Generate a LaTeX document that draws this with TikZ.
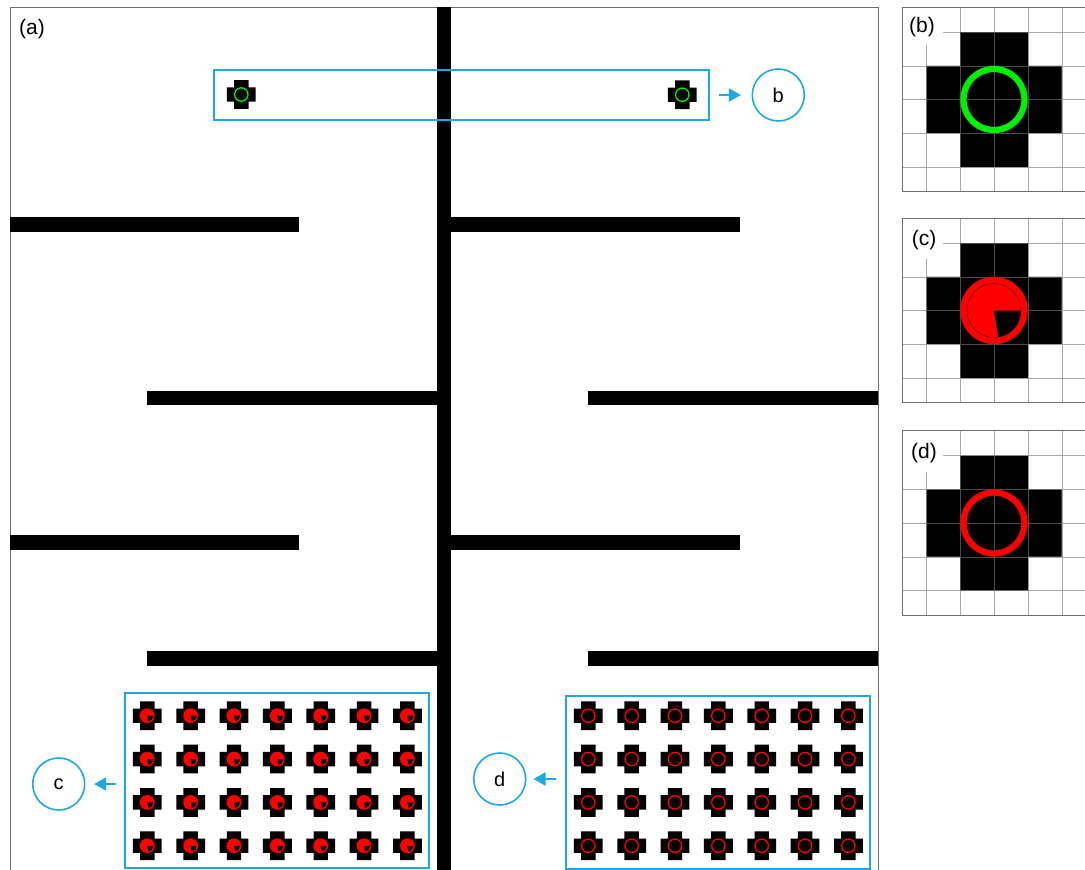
\documentclass[tikz,border=0pt]{standalone}
\usepackage{fontspec}
\setmainfont{Liberation Sans}
\usetikzlibrary{arrows.meta}
\definecolor{cyanb}{HTML}{1FA9E4}
\definecolor{gridg}{HTML}{A8A8A8}
\definecolor{frameg}{HTML}{6E6E6E}
\definecolor{ringg}{HTML}{00F000}
\definecolor{ringr}{HTML}{FF0000}
\tikzset{
  bar/.style={fill=black,draw=none},
  selbox/.style={draw=cyanb,line width=2pt,fill=none,rectangle,inner sep=0pt,outer sep=0pt,anchor=north west},
  callout/.style={draw=cyanb,line width=1.6pt,circle,minimum size=52pt,inner sep=0pt,font=\fontsize{20}{24}\selectfont},
  tag/.style={inner sep=0pt,font=\fontsize{21}{24}\selectfont},
  pointer/.style={draw=cyanb,line width=2pt,-{Triangle[length=12pt,width=13pt]}},
  gridline/.style={draw=gridg,line width=1pt},
  frameline/.style={draw=frameg,line width=1pt},
  crossbody/.style={fill=black,draw=none},
  pics/crossgreen/.style={code={
    \path[crossbody] (-7.2,-14.4)--(7.2,-14.4)--(7.2,-7.2)--(14.4,-7.2)--(14.4,7.2)--(7.2,7.2)--(7.2,14.4)--(-7.2,14.4)--(-7.2,7.2)--(-14.4,7.2)--(-14.4,-7.2)--(-7.2,-7.2)--cycle;
    \draw[ringg,line width=1.3pt] (0,0) circle[radius=6.7pt];}},
  pics/crossred/.style={code={
    \path[crossbody] (-7.2,-14.4)--(7.2,-14.4)--(7.2,-7.2)--(14.4,-7.2)--(14.4,7.2)--(7.2,7.2)--(7.2,14.4)--(-7.2,14.4)--(-7.2,7.2)--(-14.4,7.2)--(-14.4,-7.2)--(-7.2,-7.2)--cycle;
    \draw[ringr,line width=1.3pt] (0,0) circle[radius=6.7pt];}},
  pics/crossfull/.style={code={
    \path[crossbody] (-7.2,-14.4)--(7.2,-14.4)--(7.2,-7.2)--(14.4,-7.2)--(14.4,7.2)--(7.2,7.2)--(7.2,14.4)--(-7.2,14.4)--(-7.2,7.2)--(-14.4,7.2)--(-14.4,-7.2)--(-7.2,-7.2)--cycle;
    \fill[ringr] (0,0) circle[radius=7.4pt];
    \fill[black] (0,0)--(6,0) arc[start angle=0,end angle=-80,radius=6pt]--cycle;}},
}
\newcommand{\bigcross}[2]{%
  \fill[black,fill opacity=.55] (#1-34,#2-67.5)--(#1+34,#2-67.5)--(#1+34,#2-33.7)--(#1+67.7,#2-33.7)--(#1+67.7,#2+33.7)--(#1+34,#2+33.7)--(#1+34,#2+67.7)--(#1-34,#2+67.7)--(#1-34,#2+33.7)--(#1-67.7,#2+33.7)--(#1-67.7,#2-33.7)--(#1-34,#2-33.7)--cycle;}
\newcommand{\blackcross}[2]{%
  \fill[black] (#1-34,#2-67.5)--(#1+34,#2-67.5)--(#1+34,#2-33.7)--(#1+67.7,#2-33.7)--(#1+67.7,#2+33.7)--(#1+34,#2+33.7)--(#1+34,#2+67.7)--(#1-34,#2+67.7)--(#1-34,#2+33.7)--(#1-67.7,#2+33.7)--(#1-67.7,#2-33.7)--(#1-34,#2-33.7)--cycle;}
\newcommand{\gridset}[7]{%
  \draw[gridline] (926,#7) -- (926,#2);
  \foreach \gx in {960,994,1028,1062} {\draw[gridline] (\gx,#1) -- (\gx,#2);}
  \draw[gridline] (943,#3) -- (1085,#3);
  \foreach \gy in {#4,#5,#6} {\draw[gridline] (902,\gy) -- (1085,\gy);}
}
\begin{document}
\begin{tikzpicture}[x=1pt,y=-1pt]
\useasboundingbox (0,0) rectangle (1085,870);
\fill[white] (0,0) rectangle (1085,870);
\draw[frameline] (10,870) -- (10,7.5) -- (878,7.5) -- (878,870);
\fill[bar] (437,7) rectangle (451,870);
\fill[bar] (10,217) rectangle (299,231.5);
\fill[bar] (451,217) rectangle (740,231.5);
\fill[bar] (147,390.5) rectangle (437,405);
\fill[bar] (588,390.5) rectangle (878,405);
\fill[bar] (10,535) rectangle (299,549.5);
\fill[bar] (451,535) rectangle (740,549.5);
\fill[bar] (147,651) rectangle (437,665.5);
\fill[bar] (588,651) rectangle (878,665.5);
\node[tag] (la) at (32,29) {(a)};
\node[selbox,minimum width=495.5pt,minimum height=49.5pt] (boxb) at (213.5,70) {};
\node[selbox,minimum width=304pt,minimum height=175pt] (boxc) at (125,693.3) {};
\node[selbox,minimum width=304.5pt,minimum height=173.5pt] (boxd) at (565.7,695.7) {};
\pic at (241.3,94.5) {crossgreen};
\pic at (682.3,94.7) {crossgreen};
\foreach \i in {0,...,6} \foreach \j in {0,...,3} {
  \pic at (147.3+43.35*\i,715.7+43.35*\j) {crossfull};
  \pic at (588.3+43.35*\i,715.7+43.35*\j) {crossred};
}
\node[callout] (circb) at (778.3,95) {b};
\node[callout] (circc) at (58.7,784) {c};
\node[callout] (circd) at (499.7,779) {d};
\draw[pointer,shorten <=10pt,shorten >=10.6pt] (boxb.east |- circb.center) -- (circb);
\draw[pointer,shorten <=8.7pt,shorten >=8.6pt] (boxc.west |- circc.center) -- (circc);
\draw[pointer,shorten <=9.7pt,shorten >=7pt] (boxd.west |- circd.center) -- (circd);
\begin{scope}
\clip (895,0) rectangle (1085,870);
% panel b
\blackcross{994}{99.5}
\gridset{7}{191}{32}{66}{99.5}{133.5}{45}
\draw[gridline] (902,167.5) -- (1085,167.5);
\bigcross{994}{99.5}
\draw[frameline] (1085,7.5) -- (902,7.5) -- (902,191) -- (1085,191);
\draw[ringg,line width=6.3pt] (994,99.5) circle[radius=30.5pt];
\node[tag] (lb) at (922,27) {(b)};
% panel c
\blackcross{994}{310.5}
\gridset{218.5}{402}{243}{277}{310.5}{344.5}{259}
\draw[gridline] (902,378.5) -- (1085,378.5);
\bigcross{994}{310.5}
\draw[frameline] (1085,218.5) -- (902,218.5) -- (902,402) -- (1085,402);
\fill[ringr] (994,310.5) circle[radius=33.7pt];
\draw[black!70!red,line width=.4pt] (994,310.5) circle[radius=27pt];
\fill[black] (994,310.5)--(1021,310.5) arc[start angle=0,end angle=-81,radius=27pt]--cycle;
\node[tag] (lc) at (924,240) {(c)};
% panel d
\blackcross{994}{523}
\gridset{430.5}{615}{455.5}{489.5}{523}{557}{472}
\draw[gridline] (902,590.5) -- (1085,590.5);
\bigcross{994}{523}
\draw[frameline] (1085,430.5) -- (902,430.5) -- (902,615) -- (1085,615);
\draw[ringr,line width=6.3pt] (994,523) circle[radius=30.5pt];
\node[tag] (ld) at (924,453) {(d)};
\end{scope}
\end{tikzpicture}
\end{document}
